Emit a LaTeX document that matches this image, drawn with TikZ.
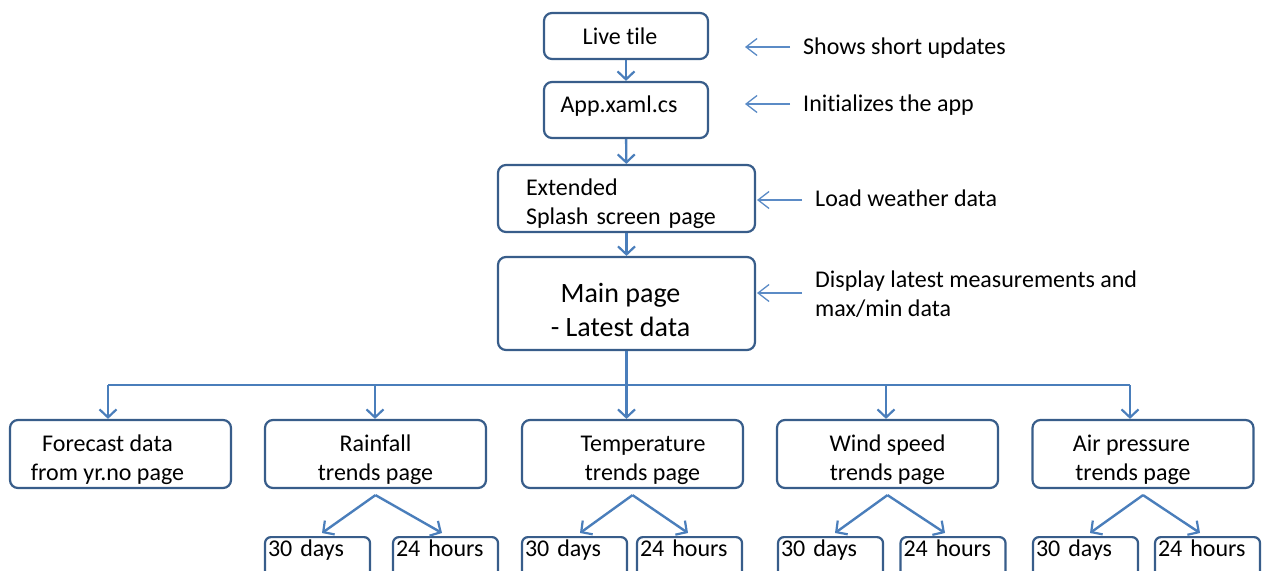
\documentclass[tikz,border=0pt]{standalone}
\usepackage{fontspec}
\setmainfont{Carlito}[Ligatures=NoCommon]
\usetikzlibrary{arrows.meta,calc}
\definecolor{boxc}{HTML}{385D8A}
\definecolor{arrc}{HTML}{4A7EBB}
\definecolor{sidec}{HTML}{5B8BC6}
\newcommand\upstrut[1]{\rule{0pt}{#1}}
\begin{document}
\begin{tikzpicture}[x=1pt,y=-1pt,
  box/.style={draw=boxc, line width=2.2pt, rounded corners=8pt, fill=white,
    inner sep=0pt, align=center, font=\fontsize{24}{29}\selectfont},
  subbox/.style={draw=boxc, line width=2.2pt, rounded corners=6pt, fill=white,
    anchor=north, minimum width=105pt, text width=99pt, align=left,
    inner xsep=3pt, inner ysep=2pt, text height=17pt, text depth=40pt,
    font=\fontsize{24}{29}\selectfont},
  lbl/.style={anchor=west, inner sep=0pt, align=left, font=\fontsize{24}{29}\selectfont},
  flow/.style={draw=arrc, line width=2.4pt, -{Straight Barb[length=8pt,width=17pt,line width=2.2pt]}},
  trunk/.style={draw=arrc, line width=2.4pt},
  side/.style={draw=sidec, line width=1.3pt, -{Straight Barb[length=11pt,width=17pt,line width=1.3pt]}}
]
\useasboundingbox (0,0) rectangle (1271,570);
\clip (0,0) rectangle (1271,570);

% top chain
\node[box, minimum width=164pt, minimum height=46pt] (live) at (626,36) {Live tile\hspace*{12pt}};
\node[box, minimum width=164pt, minimum height=56pt, text depth=11pt] (app) at (626,110) {App.xaml.cs\hspace*{14pt}};
\node[box, minimum width=257pt, minimum height=67pt, text width=201pt, align=left] (ext) at (626.5,198.5) {\upstrut{28pt}Extended\\Splash screen page};
\node[box, minimum width=257pt, minimum height=93pt, font=\fontsize{28}{34}\selectfont] (main) at (626.5,303.5) {\upstrut{33pt}Main page\hspace*{12pt}\\- Latest data\hspace*{12pt}};

\draw[flow] (live) -- (app);
\draw[flow] (app) -- (ext);
\draw[flow] (ext) -- (main);

% side notes
\node[lbl] (n1) at (803,48) {Shows short updates};
\node[lbl] (n2) at (803,105) {Initializes the app};
\node[lbl] (n3) at (815,198) {Load weather data};
\node[lbl] (n4) at (815,294) {Display latest measurements and\\max/min data};
\coordinate (t1) at (745,47);
\coordinate (t2) at (745,104);
\coordinate (t3) at (757,200);
\coordinate (t4) at (757,293);
\draw[side, shorten <=13pt] (n1.west |- t1) -- (t1);
\draw[side, shorten <=13pt] (n2.west |- t2) -- (t2);
\draw[side, shorten <=13pt] (n3.west |- t3) -- (t3);
\draw[side, shorten <=13pt] (n4.west |- t4) -- (t4);

% second level
\node[box, minimum width=221pt, minimum height=68pt] (fc) at (120.5,454) {\upstrut{28pt}Forecast data\hspace*{26pt}\\from yr.no page\hspace*{26pt}};
\node[box, minimum width=221pt, minimum height=68pt] (rain) at (375.5,454) {\upstrut{28pt}Rainfall\\trends page};
\node[box, minimum width=221pt, minimum height=68pt] (temp) at (632.5,454) {\upstrut{28pt}\hspace*{21pt}Temperature\\\hspace*{20pt}trends page};
\node[box, minimum width=221pt, minimum height=68pt] (wind) at (887.5,454) {\upstrut{28pt}Wind speed\\trends page};
\node[box, minimum width=221pt, minimum height=68pt] (air) at (1143,454) {\upstrut{28pt}Air pressure\hspace*{23pt}\\trends page\hspace*{20pt}};

\coordinate (bar) at (0,385);
\coordinate (xfc) at (108,0);
\coordinate (xrain) at (375,0);
\coordinate (xwind) at (886,0);
\coordinate (xair) at (1130,0);

\draw[trunk] (xfc |- bar) -- (xair |- bar);
\draw[flow] (main.south) -- (main.south |- temp.north);
\draw[flow] (xfc |- bar) -- (xfc |- fc.north);
\draw[flow] (xrain |- bar) -- (xrain |- rain.north);
\draw[flow] (xwind |- bar) -- (xwind |- wind.north);
\draw[flow] (xair |- bar) -- (xair |- air.north);

% third level
\node[subbox] (r30) at (317.5,536) {30 days};
\node[subbox] (r24) at (445.5,536) {24 hours};
\node[subbox] (t30) at (574.5,536) {30 days};
\node[subbox] (t24) at (689.5,536) {24 hours};
\node[subbox] (w30) at (830.5,536) {30 days};
\node[subbox] (w24) at (953,536) {24 hours};
\node[subbox] (a30) at (1085.5,536) {30 days};
\node[subbox] (a24) at (1207.5,536) {24 hours};

\draw[flow] ([yshift=-6pt]rain.south) -- ([xshift=4.5pt,yshift=3pt]r30.north);
\draw[flow] ([yshift=-6pt]rain.south) -- ([xshift=-3.5pt,yshift=3pt]r24.north);
\draw[flow] ([yshift=-6pt]temp.south) -- ([xshift=5.5pt,yshift=3pt]t30.north);
\draw[flow] ([yshift=-6pt]temp.south) -- ([xshift=-1.5pt,yshift=3pt]t24.north);
\draw[flow] ([yshift=-6pt]wind.south) -- ([xshift=4.5pt,yshift=3pt]w30.north);
\draw[flow] ([yshift=-6pt]wind.south) -- ([xshift=-8pt,yshift=3pt]w24.north);
\draw[flow] ([yshift=-6pt]air.south) -- ([xshift=4.5pt,yshift=3pt]a30.north);
\draw[flow] ([yshift=-6pt]air.south) -- ([xshift=-7.5pt,yshift=3pt]a24.north);
\end{tikzpicture}
\end{document}
